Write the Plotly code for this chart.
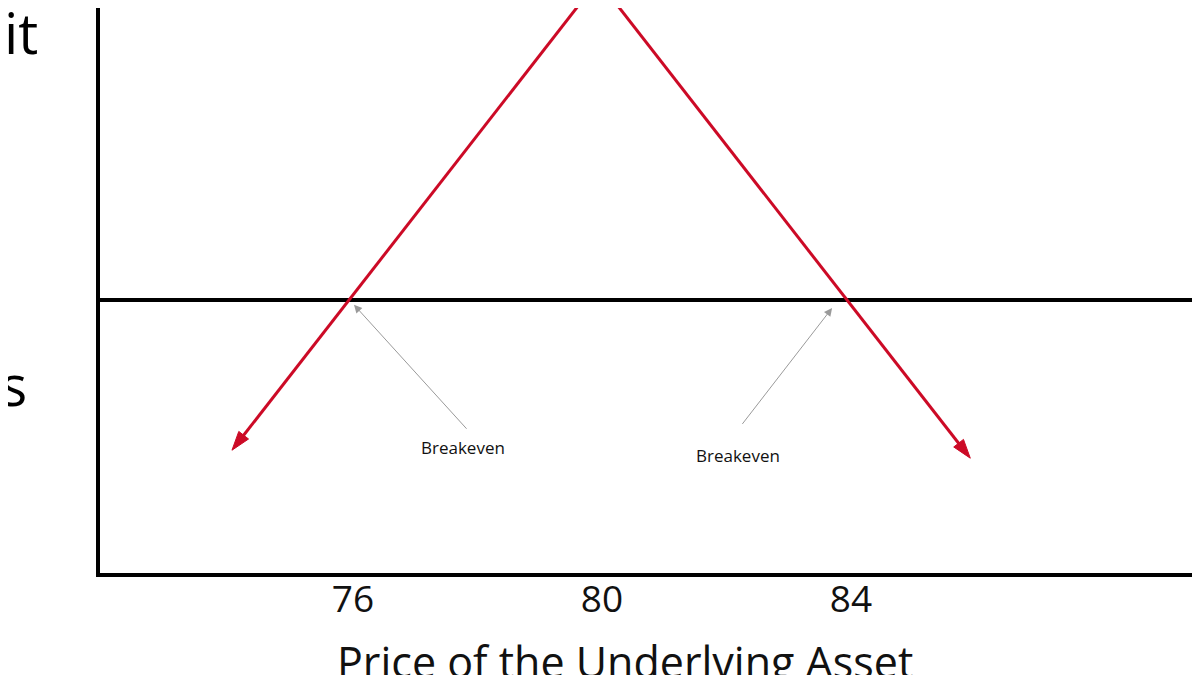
import plotly.graph_objects as go

# Short straddle payoff: strike 80, premium 4
price_left = [80, 74.12]
profit_left = [4, -1.88]
price_right = [80, 85.98]
profit_right = [4, -1.98]

tick_vals = [76, 80, 84]
tick_text = ["76", "80", "84"]

breakeven_x = [76.08, 83.76]
breakeven_y = [-0.06, -0.10]
arrow_tail_x = [77.91, 82.30]
arrow_tail_y = [-1.63, -1.57]
label_x = [77.83, 82.25]
label_y = [-1.84, -1.94]
label_text = ["Breakeven", "Breakeven"]

RED = "#cc0a26"
FONT = "Open Sans"

fig = go.Figure()
for xs, ys in [(price_left, profit_left), (price_right, profit_right)]:
    fig.add_trace(go.Scatter(
        x=xs, y=ys, mode="lines+markers",
        line=dict(color=RED, width=3),
        marker=dict(symbol=["circle", "arrow"], size=[0, 20], color=RED, opacity=1,
                    angleref="previous", line=dict(width=1, color=RED)),
        showlegend=False, hoverinfo="skip",
    ))

for i in range(2):
    fig.add_annotation(
        x=breakeven_x[i], y=breakeven_y[i], ax=arrow_tail_x[i], ay=arrow_tail_y[i],
        xref="x", yref="y", axref="x", ayref="y", text="", showarrow=True,
        arrowhead=2, arrowsize=1.6, arrowwidth=1, arrowcolor="#9a9a9a", standoff=0,
    )
    fig.add_annotation(
        x=label_x[i], y=label_y[i], xref="x", yref="y", text=label_text[i],
        showarrow=False, font=dict(family=FONT, size=17, color="#111"),
    )

fig.add_annotation(x=-0.0545, y=3.36, xref="paper", yref="y", text="Profit",
                   showarrow=False, xanchor="right", yanchor="middle",
                   font=dict(family=FONT, size=56, color="#000"))
fig.add_annotation(x=-0.065, y=-1.05, xref="paper", yref="y", text="Loss",
                   showarrow=False, xanchor="right", yanchor="middle",
                   font=dict(family=FONT, size=56, color="#000"))
fig.add_annotation(x=0.477, y=-0.1575, xref="paper", yref="paper",
                   text="Price of the Underlying Asset", showarrow=False,
                   xanchor="center", yanchor="middle",
                   font=dict(family=FONT, size=43, color="#111"))

fig.update_layout(
    width=1192, height=667, template="none",
    paper_bgcolor="white", plot_bgcolor="white",
    margin=dict(l=92, r=0, t=0, b=102),
    showlegend=False,
)
fig.update_xaxes(
    range=[72, 89.67], tickvals=tick_vals, ticktext=tick_text, ticks="",
    showgrid=False, zeroline=False, showline=True, linecolor="black", linewidth=4,
    tickfont=dict(family=FONT, size=37, color="#111"),
    ticklabelshift=4, ticklabelstandoff=-9,
    automargin=False,
)
fig.update_yaxes(
    range=[-3.417, 3.655], showticklabels=False, ticks="", showgrid=False,
    zeroline=True, zerolinecolor="black", zerolinewidth=4,
    showline=True, linecolor="black", linewidth=4, automargin=False,
)

fig.write_html("out.html")
